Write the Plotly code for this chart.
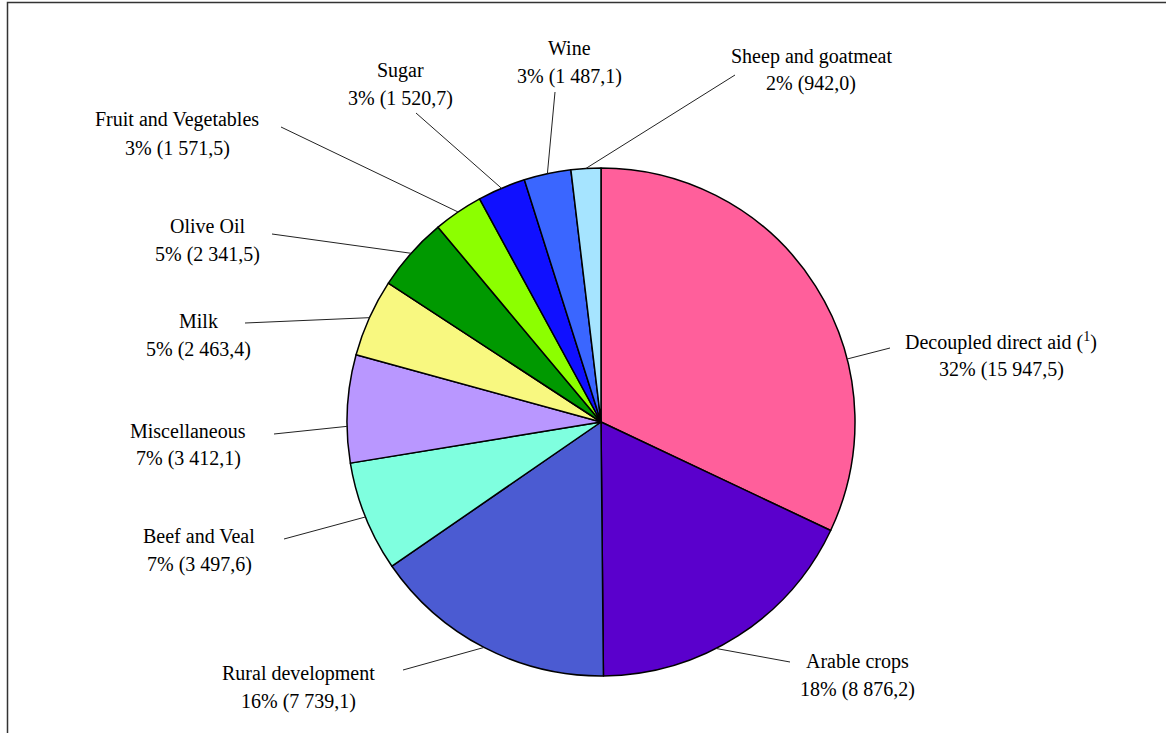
import math
import plotly.graph_objects as go

# ---------------- data ----------------
categories = ["Decoupled direct aid", "Arable crops", "Rural development", "Beef and Veal",
              "Miscellaneous", "Milk", "Olive Oil", "Fruit and Vegetables", "Sugar", "Wine",
              "Sheep and goatmeat"]
display_names = ["Decoupled direct aid (<sup>1</sup>)", "Arable crops", "Rural development",
                 "Beef and Veal", "Miscellaneous", "Milk", "Olive Oil", "Fruit and Vegetables",
                 "Sugar", "Wine", "Sheep and goatmeat"]
values = [15947.5, 8876.2, 7739.1, 3497.6, 3412.1, 2463.4, 2341.5, 1571.5, 1520.7, 1487.1, 942.0]

# ---------------- style / layout ----------------
colors = ["#FF5F9B", "#5A00CC", "#4B5BD2", "#7FFFDF", "#B997FF", "#F8F880", "#009900",
          "#8CFF00", "#1010FF", "#3A66FF", "#A6E4FF"]
W, H = 1166, 733
CX, CY, R = 601, 422, 254          # pie centre / radius in pixels
FONT = "Liberation Serif"
FS = 20
# label centre (x, y of first line) in pixels, second line 28px lower
label_pos = [(1001, 341), (857, 661), (298, 673), (199, 536), (188, 431), (198, 321),
             (207, 226), (177, 120), (400, 71), (569, 48), (811, 56)]
# outer end of leader line, pixels
leader_end = [(890, 348), (790, 662), (403, 670), (284, 539), (274, 434), (245, 323),
              (272, 234), (281, 127), (416, 113), (555, 92), (735, 75)]
# angular shift (deg) of the leader start from the slice middle
leader_shift = [18, 5.7, 0, 0, -4, 0, 0, 0, 0, 0, 0]


def fmt_num(v):
    s = f"{v:,.1f}"
    return s.replace(",", " ").replace(".", ",")


total = sum(values)

fig = go.Figure(go.Pie(
    labels=categories, values=values, sort=False, direction="clockwise", rotation=0,
    marker=dict(colors=colors, line=dict(color="black", width=1.5)),
    textinfo="none", hoverinfo="label+value+percent", showlegend=False,
    domain=dict(x=[(CX - R) / W, (CX + R) / W], y=[(H - CY - R) / H, (H - CY + R) / H]),
))


def px(x):
    return x / W


def py(y):
    return 1 - y / H


annotations = []
shapes = []
cum = 0.0
for i, v in enumerate(values):
    mid = (cum + v / 2) / total * 360 + leader_shift[i]
    cum += v
    a = math.radians(mid)
    sx, sy = CX + R * math.sin(a), CY - R * math.cos(a)
    ex, ey = leader_end[i]
    shapes.append(dict(type="line", xref="paper", yref="paper", x0=px(sx), y0=py(sy),
                       x1=px(ex), y1=py(ey), line=dict(color="#222222", width=1)))
    lx, ly = label_pos[i]
    pct = round(v / total * 100)
    for text, yy in ((display_names[i], ly), (f"{pct}% ({fmt_num(v)})", ly + 28)):
        annotations.append(dict(x=px(lx), y=py(yy), xref="paper", yref="paper",
                                text=text, showarrow=False, xanchor="center", yanchor="middle",
                                font=dict(family=FONT, size=FS, color="black")))

# outer frame
shapes.append(dict(type="rect", xref="paper", yref="paper", x0=7.5 / W, y0=-0.05, x1=1.05,
                   y1=1 - 2.5 / H, line=dict(color="#333333", width=1.5)))

fig.update_layout(width=W, height=H, margin=dict(l=0, r=0, t=0, b=0),
                  paper_bgcolor="white", plot_bgcolor="white",
                  annotations=annotations, shapes=shapes)
fig.write_html("out.html", config={"displayModeBar": False},
               post_script="document.body.style.margin='0px';")
